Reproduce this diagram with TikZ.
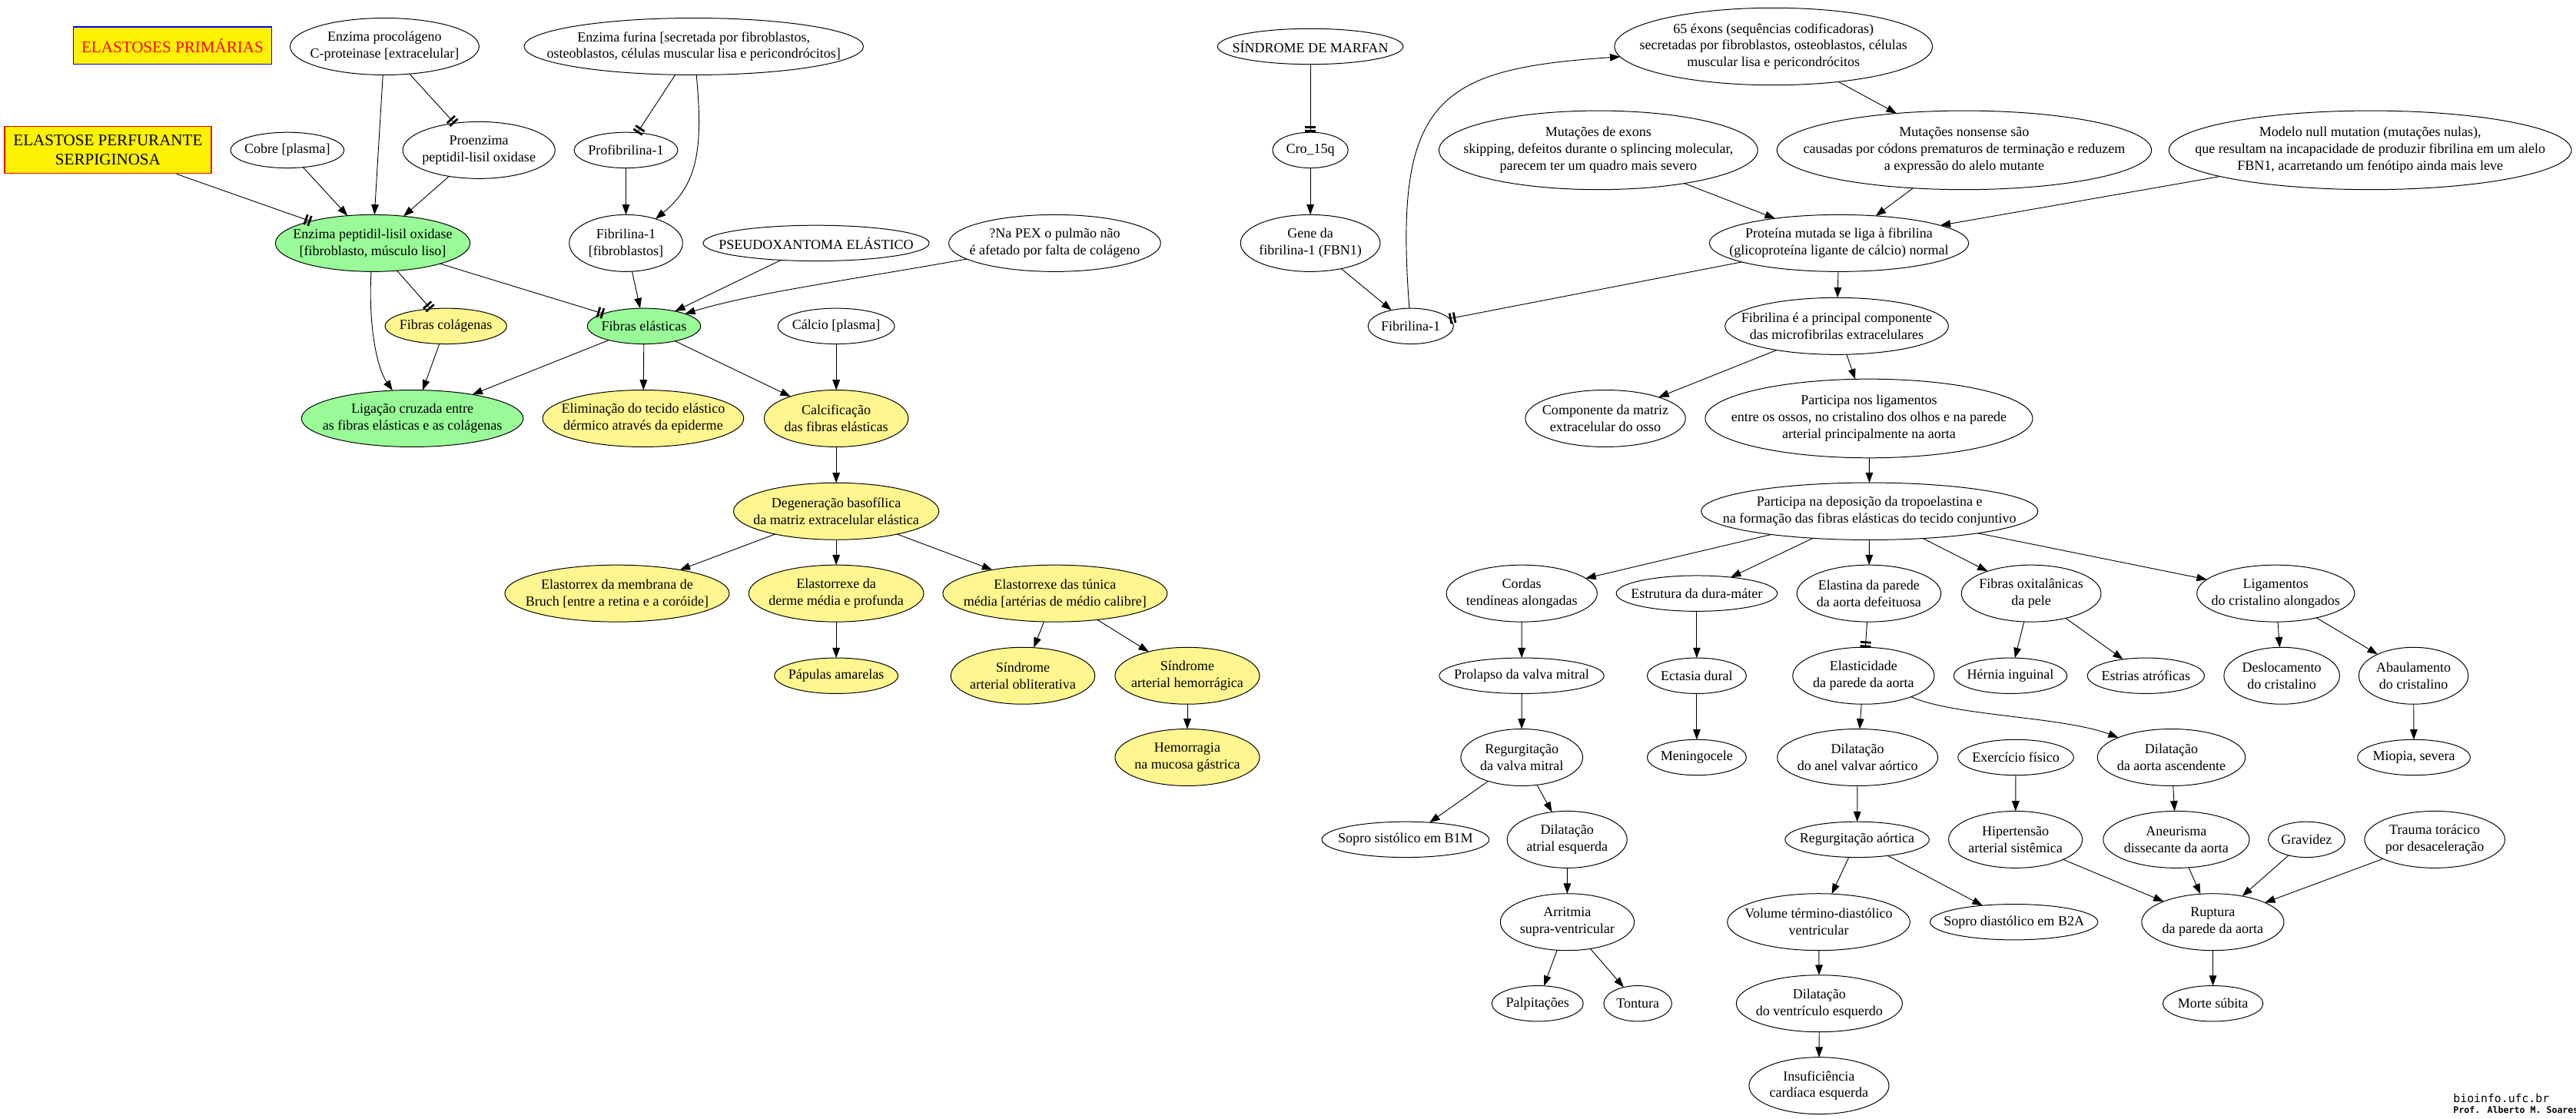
\documentclass[tikz,border=0pt]{standalone}
\usepackage{fontspec}
\setmainfont{Liberation Serif}
\newfontfamily\creditfont{DejaVu Sans Mono}
\usepackage{tikz}
\usetikzlibrary{shapes.geometric,arrows.meta}
\usepackage{xcolor}
\definecolor{palegreen}{HTML}{98FB98}
\definecolor{paleyellow}{HTML}{FFF68F}
\newcommand{\bubble}[7] {
    \node[bub,fill={#6},minimum width={#4*1.4pt},minimum height={#5*1.4pt}] (#1) at ({#2}, {#3}) {};
    \node[lbl] (#1-t) at ({#2}, {#3}) {#7};
}
\tikzset{
    bub/.style={ellipse, draw, line width=0.65pt, inner sep=0pt, outer sep=0pt},
    lbl/.style={align=center, inner sep=0pt, font=\fontsize{11.8}{14.3}\selectfont},
    tagbox/.style={rectangle, draw, line width=1pt, fill=yellow, inner sep=0pt, align=center,
        font=\fontsize{13.8}{16}\selectfont},
    arr/.style={line width=0.6pt, -{Triangle[length=8.7pt,width=6.3pt]}},
    tee/.style={line width=0.6pt, -{Bar[width=9pt,line width=1.8pt,sep=1.6pt]Bar[width=9pt,line width=1.8pt]}},
    credit/.style={inner sep=0pt, anchor=west, font=\creditfont\fontsize{9.7}{11}\selectfont}
}

\begin{document}
\begin{tikzpicture}[x=1.4pt,y=-1.4pt]
    \useasboundingbox (0,0) rectangle (1568,681);
    \fill[white] (0,0) rectangle (1568,681);
    % elastoses primarias
    \node[tagbox,draw=blue,text=red,minimum width=120.8*1.4pt,minimum height=22.6*1.4pt] (prim) at (105,27.7) {ELASTOSES PRIMÁRIAS};
    \node[tagbox,draw=red,minimum width=126*1.4pt,minimum height=28.7*1.4pt] (serp) at (65.7,91.2) {ELASTOSE PERFURANTE\\SERPIGINOSA};
    \bubble{procol}{234.1}{28.3}{115}{34.6}{white}{Enzima procolágeno\\C-proteinase [extracelular]}
    \bubble{furina}{422.3}{28.3}{206.5}{34.6}{white}{Enzima furina [secretada por fibroblastos,\\osteoblastos, células muscular lisa e pericondrócitos]}
    \bubble{cobre}{174.9}{91.4}{69}{21.7}{white}{Cobre [plasma]}
    \bubble{proenz}{291.5}{91.4}{92.7}{34.6}{white}{Proenzima\\peptidil-lisil oxidase}
    \bubble{profib}{381}{91.4}{63}{21.7}{white}{Profibrilina-1}
    \bubble{lox}{226.9}{148}{118.5}{34.6}{palegreen}{Enzima peptidil-lisil oxidase\\{}[fibroblasto, músculo liso]}
    \bubble{fibL}{381}{148}{69}{34.6}{white}{Fibrilina-1\\{}[fibroblastos]}
    \bubble{pseudo}{496.8}{148}{137.6}{21.7}{white}{PSEUDOXANTOMA ELÁSTICO}
    \bubble{pex}{642}{148}{129}{34.6}{white}{?Na PEX o pulmão não\\é afetado por falta de colágeno}
    \bubble{colag}{271.4}{198.5}{74}{21.7}{paleyellow}{Fibras colágenas}
    \bubble{elast}{392}{198.5}{69}{21.7}{palegreen}{Fibras elásticas}
    \bubble{calcio}{509}{198.5}{71}{21.7}{white}{Cálcio [plasma]}
    \bubble{lig}{251}{254.7}{135}{34.6}{palegreen}{Ligação cruzada entre\\as fibras elásticas e as colágenas}
    \bubble{elim}{391.5}{254.7}{122.4}{34.6}{paleyellow}{Eliminação do tecido elástico\\dérmico através da epiderme}
    \bubble{calcif}{509}{254.7}{87.7}{34.6}{paleyellow}{Calcificação\\das fibras elásticas}
    \bubble{degen}{509}{311.2}{125}{34.6}{paleyellow}{Degeneração basofílica\\da matriz extracelular elástica}
    \bubble{bruch}{375.6}{361.2}{136.6}{34.6}{paleyellow}{Elastorrex da membrana de\\Bruch [entre a retina e a coróide]}
    \bubble{derme}{509}{361.2}{106.5}{34.6}{paleyellow}{Elastorrexe da\\derme média e profunda}
    \bubble{tunica}{642.2}{361.2}{136.6}{34.6}{paleyellow}{Elastorrexe das túnica\\média [artérias de médio calibre]}
    \bubble{papulas}{509}{411.3}{75.2}{21.7}{paleyellow}{Pápulas amarelas}
    \bubble{oblit}{622.6}{411.3}{87.7}{34.6}{paleyellow}{Síndrome\\arterial obliterativa}
    \bubble{hemorr}{722.7}{411.3}{88}{34.6}{paleyellow}{Síndrome\\arterial hemorrágica}
    \bubble{mucosa}{722.7}{461}{88}{34.6}{paleyellow}{Hemorragia\\na mucosa gástrica}

    \draw[arr] (procol) -- (lox);
    \draw[tee] (procol) -- (proenz);
    \draw[tee] (furina) -- (profib);
    \draw[arr] (furina) .. controls (428,90) and (425,112) .. (fibL);
    \draw[tee] (serp) -- (lox);
    \draw[arr] (cobre) -- (lox);
    \draw[arr] (proenz) -- (lox);
    \draw[arr] (profib) -- (fibL);
    \draw[tee] (lox) -- (colag);
    \draw[tee] (lox) -- (elast);
    \draw[arr] (lox) .. controls (224,200) and (230,225) .. (lig);
    \draw[arr] (fibL) -- (elast);
    \draw[arr] (pseudo) -- (elast);
    \draw[arr] (pex) .. controls (520,170) and (460,178) .. (elast);
    \draw[arr] (colag) -- (lig);
    \foreach \b in {lig,elim,calcif}
        \draw[arr] (elast) -- (\b);
    \draw[arr] (calcio) -- (calcif);
    \draw[arr] (calcif) -- (degen);
    \foreach \b in {bruch,derme,tunica}
        \draw[arr] (degen) -- (\b);
    \draw[arr] (derme) -- (papulas);
    \draw[arr] (tunica) -- (oblit);
    \draw[arr] (tunica) -- (hemorr);
    \draw[arr] (hemorr) -- (mucosa);

    % sindrome de marfan
    \bubble{marfan}{797.6}{28.3}{113}{21.7}{white}{SÍNDROME DE MARFAN}
    \bubble{exons}{1079.5}{28.3}{193.6}{47}{white}{65 éxons (sequências codificadoras)\\secretadas por fibroblastos, osteoblastos, células\\muscular lisa e pericondrócitos}
    \bubble{cro}{797.6}{91.4}{46}{21.7}{white}{Cro\_15q}
    \bubble{mutex}{972.9}{91.4}{194}{48}{white}{Mutações de exons\\skipping, defeitos durante o splincing molecular,\\parecem ter um quadro mais severo}
    \bubble{nonsense}{1195.6}{91.4}{228}{48}{white}{Mutações nonsense são\\causadas por códons prematuros de terminação e reduzem\\a expressão do alelo mutante}
    \bubble{null}{1442.7}{91.4}{245}{48}{white}{Modelo null mutation (mutações nulas),\\que resultam na incapacidade de produzir fibrilina em um alelo\\FBN1, acarretando um fenótipo ainda mais leve}
    \bubble{gene}{797.6}{148}{85}{34.6}{white}{Gene da\\fibrilina-1 (FBN1)}
    \bubble{protmut}{1119.4}{148}{157.8}{34.6}{white}{Proteína mutada se liga à fibrilina\\(glicoproteína ligante de cálcio) normal}
    \bubble{fibR}{858.7}{198.5}{52}{21.7}{white}{Fibrilina-1}
    \bubble{fibprinc}{1118}{198.5}{136}{34.6}{white}{Fibrilina é a principal componente\\das microfibrilas extracelulares}
    \bubble{compmat}{977.2}{254.7}{97.5}{34.6}{white}{Componente da matriz\\extracelular do osso}
    \bubble{particlig}{1137.6}{254.7}{199.3}{48}{white}{Participa nos ligamentos\\entre os ossos, no cristalino dos olhos e na parede\\arterial principalmente na aorta}
    \bubble{partdep}{1138}{311.2}{205}{34.8}{white}{Participa na deposição da tropoelastina e\\na formação das fibras elásticas do tecido conjuntivo}
    \bubble{cordas}{926.3}{361.2}{91.8}{34.6}{white}{Cordas\\tendíneas alongadas}
    \bubble{dura}{1032.8}{361.2}{98}{21.7}{white}{Estrutura da dura-máter}
    \bubble{elastina}{1137.6}{361.2}{87.7}{34.6}{white}{Elastina da parede\\da aorta defeituosa}
    \bubble{oxital}{1236.4}{361.2}{85}{34.6}{white}{Fibras oxitalânicas\\da pele}
    \bubble{ligcrist}{1385.2}{361.2}{96}{34.6}{white}{Ligamentos\\do cristalino alongados}
    \bubble{prolapso}{926.2}{411.3}{100.3}{21.7}{white}{Prolapso da valva mitral}
    \bubble{ectasia}{1032.8}{411.3}{60.4}{21.7}{white}{Ectasia dural}
    \bubble{elastic}{1134.3}{411.3}{86.2}{34.6}{white}{Elasticidade\\da parede da aorta}
    \bubble{hernia}{1223.7}{411.3}{68.9}{21.7}{white}{Hérnia inguinal}
    \bubble{estrias}{1306.2}{411.3}{71.2}{21.7}{white}{Estrias atróficas}
    \bubble{desloc}{1388.9}{411.3}{70.4}{34.6}{white}{Deslocamento\\do cristalino}
    \bubble{abaul}{1469.1}{411.3}{66.6}{34.6}{white}{Abaulamento\\do cristalino}
    \bubble{regmit}{926.3}{461}{74.2}{34.6}{white}{Regurgitação\\da valva mitral}
    \bubble{mening}{1032.8}{461}{60.4}{21.7}{white}{Meningocele}
    \bubble{dilanel}{1130.7}{461}{97.8}{34.6}{white}{Dilatação\\do anel valvar aórtico}
    \bubble{exerc}{1227}{461}{70.4}{21.7}{white}{Exercício físico}
    \bubble{dilasc}{1321.7}{461}{90}{34.6}{white}{Dilatação\\da aorta ascendente}
    \bubble{miopia}{1469.3}{461}{68.6}{21.7}{white}{Miopia, severa}
    \bubble{soproa}{855.5}{511}{101.8}{21.7}{white}{Sopro sistólico em B1M}
    \bubble{dilatr}{953.9}{511}{73}{34.6}{white}{Dilatação\\atrial esquerda}
    \bubble{regao}{1130.4}{511}{87.7}{21.7}{white}{Regurgitação aórtica}
    \bubble{hiper}{1226.8}{511}{81.4}{34.6}{white}{Hipertensão\\arterial sistêmica}
    \bubble{aneur}{1324.7}{511}{89}{34.6}{white}{Aneurisma\\dissecante da aorta}
    \bubble{gravidez}{1404}{511}{46.7}{21.7}{white}{Gravidez}
    \bubble{trauma}{1482}{511}{85.4}{34.6}{white}{Trauma torácico\\por desaceleração}
    \bubble{arrit}{954}{561.2}{81.5}{34.6}{white}{Arritmia\\supra-ventricular}
    \bubble{volume}{1107}{561.2}{111.2}{34.6}{white}{Volume término-diastólico\\ventricular}
    \bubble{soprob}{1225.9}{561.2}{102.2}{21.7}{white}{Sopro diastólico em B2A}
    \bubble{ruptura}{1346.9}{561.2}{86.6}{34.6}{white}{Ruptura\\da parede da aorta}
    \bubble{palp}{935.9}{610.8}{55.7}{21.7}{white}{Palpitações}
    \bubble{tontura}{996.9}{610.8}{41.4}{21.7}{white}{Tontura}
    \bubble{dilvent}{1107.4}{610.8}{101.1}{34.6}{white}{Dilatação\\do ventrículo esquerdo}
    \bubble{morte}{1347}{610.8}{61}{21.7}{white}{Morte súbita}
    \bubble{insuf}{1107.2}{660.8}{85.2}{34.6}{white}{Insuficiência\\cardíaca esquerda}

    \draw[tee] (marfan) -- (cro);
    \draw[arr] (cro) -- (gene);
    \draw[arr] (gene) -- (fibR);
    \draw[arr] (fibR) .. controls (848,60) and (875,42) .. (exons);
    \draw[arr] (exons) -- (nonsense);
    \foreach \a in {mutex,nonsense,null}
        \draw[arr] (\a) -- (protmut);
    \draw[tee] (protmut) -- (fibR);
    \draw[arr] (protmut) -- (fibprinc);
    \draw[arr] (fibprinc) -- (compmat);
    \draw[arr] (fibprinc) -- (particlig);
    \draw[arr] (particlig) -- (partdep);
    \foreach \b in {cordas,dura,elastina,oxital,ligcrist}
        \draw[arr] (partdep) -- (\b);
    \draw[arr] (cordas) -- (prolapso);
    \draw[arr] (dura) -- (ectasia);
    \draw[tee] (elastina) -- (elastic);
    \draw[arr] (oxital) -- (hernia);
    \draw[arr] (oxital) -- (estrias);
    \draw[arr] (ligcrist) -- (desloc);
    \draw[arr] (ligcrist) -- (abaul);
    \draw[arr] (prolapso) -- (regmit);
    \draw[arr] (ectasia) -- (mening);
    \draw[arr] (elastic) -- (dilanel);
    \draw[arr] (elastic) .. controls (1190,436) and (1255,436) .. (dilasc);
    \draw[arr] (abaul) -- (miopia);
    \draw[arr] (regmit) -- (soproa);
    \draw[arr] (regmit) -- (dilatr);
    \draw[arr] (dilanel) -- (regao);
    \draw[arr] (exerc) -- (hiper);
    \draw[arr] (dilasc) -- (aneur);
    \draw[arr] (dilatr) -- (arrit);
    \draw[arr] (regao) -- (volume);
    \draw[arr] (regao) -- (soprob);
    \foreach \a in {hiper,aneur,gravidez,trauma}
        \draw[arr] (\a) -- (ruptura);
    \draw[arr] (arrit) -- (palp);
    \draw[arr] (arrit) -- (tontura);
    \draw[arr] (volume) -- (dilvent);
    \draw[arr] (ruptura) -- (morte);
    \draw[arr] (dilvent) -- (insuf);

    \node[credit] (site) at (1493.2,668.6) {bioinfo.ufc.br};
    \node[credit,font=\creditfont\bfseries\fontsize{7.6}{9}\selectfont] (author) at (1493.2,675.4) {Prof. Alberto M. Soares};
\end{tikzpicture}
\end{document}
